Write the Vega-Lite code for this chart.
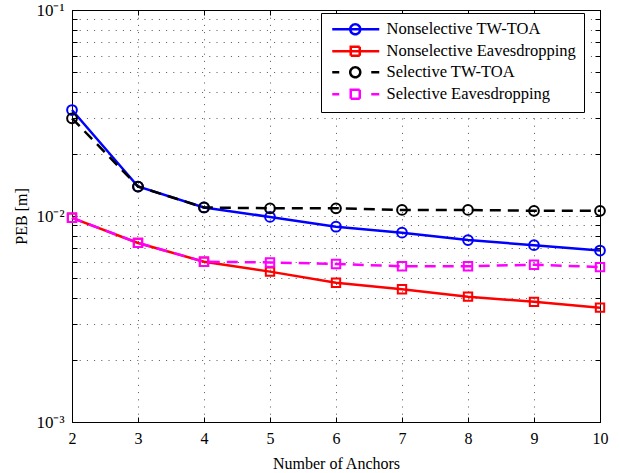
{
  "$schema": "https://vega.github.io/schema/vega-lite/v6.json",
  "width": 528,
  "height": 412,
  "autosize": {"type": "none"},
  "padding": {"left": 72, "top": 10, "right": 20, "bottom": 51},
  "background": "white",
  "config": {
    "view": {"stroke": "black", "strokeWidth": 1},
    "font": "Liberation Serif",
    "axis": {
      "domainColor": "black",
      "tickColor": "black",
      "labelColor": "black",
      "titleColor": "black",
      "labelFont": "Liberation Serif",
      "titleFont": "Liberation Serif",
      "titleFontWeight": "normal",
      "labelFontSize": 16,
      "titleFontSize": 16
    }
  },
  "data": {
    "values": [
      {"n": 2, "series": "Nonselective TW-TOA", "peb": 0.0327},
      {"n": 3, "series": "Nonselective TW-TOA", "peb": 0.0139},
      {"n": 4, "series": "Nonselective TW-TOA", "peb": 0.0110},
      {"n": 5, "series": "Nonselective TW-TOA", "peb": 0.0099},
      {"n": 6, "series": "Nonselective TW-TOA", "peb": 0.00887},
      {"n": 7, "series": "Nonselective TW-TOA", "peb": 0.0083},
      {"n": 8, "series": "Nonselective TW-TOA", "peb": 0.00764},
      {"n": 9, "series": "Nonselective TW-TOA", "peb": 0.00722},
      {"n": 10, "series": "Nonselective TW-TOA", "peb": 0.0068},
      {"n": 2, "series": "Nonselective Eavesdropping", "peb": 0.0098},
      {"n": 3, "series": "Nonselective Eavesdropping", "peb": 0.0074},
      {"n": 4, "series": "Nonselective Eavesdropping", "peb": 0.0060},
      {"n": 5, "series": "Nonselective Eavesdropping", "peb": 0.00537},
      {"n": 6, "series": "Nonselective Eavesdropping", "peb": 0.00474},
      {"n": 7, "series": "Nonselective Eavesdropping", "peb": 0.00441},
      {"n": 8, "series": "Nonselective Eavesdropping", "peb": 0.00406},
      {"n": 9, "series": "Nonselective Eavesdropping", "peb": 0.00383},
      {"n": 10, "series": "Nonselective Eavesdropping", "peb": 0.00359},
      {"n": 2, "series": "Selective TW-TOA", "peb": 0.0298},
      {"n": 3, "series": "Selective TW-TOA", "peb": 0.0139},
      {"n": 4, "series": "Selective TW-TOA", "peb": 0.0110},
      {"n": 5, "series": "Selective TW-TOA", "peb": 0.0109},
      {"n": 6, "series": "Selective TW-TOA", "peb": 0.0109},
      {"n": 7, "series": "Selective TW-TOA", "peb": 0.0107},
      {"n": 8, "series": "Selective TW-TOA", "peb": 0.0107},
      {"n": 9, "series": "Selective TW-TOA", "peb": 0.0106},
      {"n": 10, "series": "Selective TW-TOA", "peb": 0.0106},
      {"n": 2, "series": "Selective Eavesdropping", "peb": 0.0098},
      {"n": 3, "series": "Selective Eavesdropping", "peb": 0.0074},
      {"n": 4, "series": "Selective Eavesdropping", "peb": 0.0060},
      {"n": 5, "series": "Selective Eavesdropping", "peb": 0.00595},
      {"n": 6, "series": "Selective Eavesdropping", "peb": 0.00585},
      {"n": 7, "series": "Selective Eavesdropping", "peb": 0.0057},
      {"n": 8, "series": "Selective Eavesdropping", "peb": 0.0057},
      {"n": 9, "series": "Selective Eavesdropping", "peb": 0.0058},
      {"n": 10, "series": "Selective Eavesdropping", "peb": 0.00565}
    ]
  },
  "layer": [
    {
      "transform": [{"filter": {"field": "series", "oneOf": ["Nonselective TW-TOA", "Nonselective Eavesdropping"]}}],
      "mark": {"type": "line", "strokeWidth": 2.5},
      "encoding": {
        "x": {
          "field": "n", "type": "quantitative",
          "scale": {"domain": [2, 10], "nice": false, "zero": false},
          "axis": {
            "orient": "bottom",
            "values": [2, 3, 4, 5, 6, 7, 8, 9, 10],
            "format": "d",
            "tickSize": -5,
            "labelPadding": 13,
            "labelFlush": false,
            "title": "Number of Anchors",
            "titlePadding": 9,
            "grid": true,
            "gridDash": [1, 6.2],
            "gridColor": "#555555",
            "gridWidth": 1
          }
        },
        "y": {
          "field": "peb", "type": "quantitative",
          "scale": {"type": "log", "domain": [0.001, 0.1], "nice": false},
          "axis": {
            "orient": "left",
            "values": [0.001, 0.002, 0.003, 0.004, 0.005, 0.006, 0.007, 0.008, 0.009, 0.01, 0.02, 0.03, 0.04, 0.05, 0.06, 0.07, 0.08, 0.09, 0.1],
            "labelExpr": "datum.value < 0.0015 ? '10⁻³' : (datum.value > 0.0095 && datum.value < 0.0105) ? '10⁻²' : datum.value > 0.095 ? '10⁻¹' : ''",
            "tickSize": -5,
            "labelPadding": 13,
            "labelFontSize": 17,
            "labelFlush": false,
            "labelOverlap": false,
            "title": "PEB [m]",
            "titlePadding": 6,
            "grid": true,
            "gridDash": [1, 6.2],
            "gridColor": "#555555",
            "gridWidth": 1
          }
        },
        "color": {
          "field": "series", "type": "nominal",
          "scale": {
            "domain": ["Nonselective TW-TOA", "Nonselective Eavesdropping", "Selective TW-TOA", "Selective Eavesdropping"],
            "range": ["#0000ff", "#ff0000", "#000000", "#ff00ff"]
          },
          "legend": {
            "orient": "none",
            "legendX": 249,
            "legendY": 3,
            "title": null,
            "padding": 8,
            "symbolOffset": 18,
            "labelOffset": 23,
            "labelFontSize": 16.5,
            "labelFont": "Liberation Serif",
            "labelColor": "black",
            "labelLimit": 400,
            "strokeColor": "black",
            "fillColor": "white",
            "rowPadding": 1,
            "symbolSize": 100,
            "symbolStrokeWidth": 2.5,
            "encode": {
              "symbols": {
                "update": {
                  "shape": {"signal": "datum.value === 'Nonselective TW-TOA' ? 'M-4.6,0H4.8M1,0A1,1,0,1,1,-1,0A1,1,0,1,1,1,0' : datum.value === 'Nonselective Eavesdropping' ? 'M-4.6,0H4.8M-0.9,-0.9H0.9V0.9H-0.9Z' : datum.value === 'Selective TW-TOA' ? 'M-4.6,0H-3.2M3.2,0H4.8M1,0A1,1,0,1,1,-1,0A1,1,0,1,1,1,0' : 'M-4.6,0H-3.2M3.2,0H4.8M-0.9,-0.9H0.9V0.9H-0.9Z'"},
                  "size": {"value": 100},
                  "fill": {"value": "transparent"},
                  "strokeDash": {"value": [1, 0]},
                  "strokeWidth": {"value": 2.5},
                  "opacity": {"value": 1}
                }
              }
            }
          }
        }
      }
    },
    {
      "transform": [{"filter": {"field": "series", "oneOf": ["Selective TW-TOA", "Selective Eavesdropping"]}}],
      "mark": {"type": "line", "strokeWidth": 2.5, "strokeDash": [11, 7]},
      "encoding": {
        "x": {"field": "n", "type": "quantitative", "axis": null},
        "y": {"field": "peb", "type": "quantitative", "axis": null},
        "color": {"field": "series", "type": "nominal"}
      }
    },
    {
      "transform": [{"filter": {"field": "series", "oneOf": ["Nonselective TW-TOA", "Selective TW-TOA"]}}],
      "mark": {"type": "point", "shape": "circle", "filled": false, "strokeWidth": 2, "size": 95, "opacity": 1},
      "encoding": {
        "x": {"field": "n", "type": "quantitative", "axis": null},
        "y": {"field": "peb", "type": "quantitative", "axis": null},
        "color": {"field": "series", "type": "nominal"}
      }
    },
    {
      "transform": [{"filter": {"field": "series", "oneOf": ["Nonselective Eavesdropping", "Selective Eavesdropping"]}}],
      "mark": {"type": "point", "shape": "square", "filled": false, "strokeWidth": 2, "size": 70, "opacity": 1},
      "encoding": {
        "x": {"field": "n", "type": "quantitative", "axis": null},
        "y": {"field": "peb", "type": "quantitative", "axis": null},
        "color": {"field": "series", "type": "nominal"}
      }
    },
    {
      "mark": {"type": "point", "opacity": 0},
      "encoding": {
        "x": {
          "field": "n", "type": "quantitative",
          "axis": {"orient": "top", "values": [2, 3, 4, 5, 6, 7, 8, 9, 10], "labels": false, "tickSize": -5, "grid": false, "title": null}
        },
        "y": {
          "field": "peb", "type": "quantitative",
          "axis": {
            "orient": "right",
            "values": [0.001, 0.002, 0.003, 0.004, 0.005, 0.006, 0.007, 0.008, 0.009, 0.01, 0.02, 0.03, 0.04, 0.05, 0.06, 0.07, 0.08, 0.09, 0.1],
            "labels": false, "tickSize": -5, "grid": false, "title": null
          }
        }
      }
    }
  ],
  "resolve": {"axis": {"x": "independent", "y": "independent"}}
}
